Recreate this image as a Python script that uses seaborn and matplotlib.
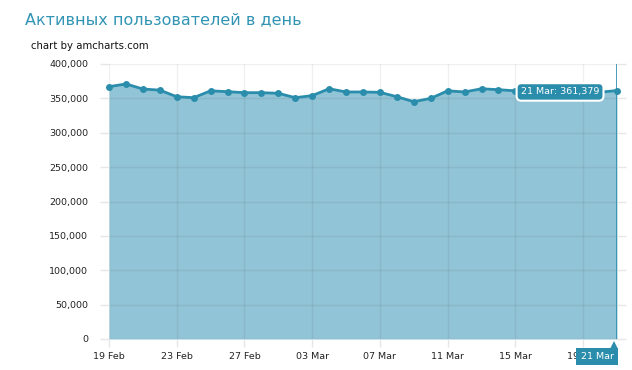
import matplotlib
matplotlib.use("Agg")
import matplotlib.pyplot as plt
import matplotlib.transforms as mtrans
from matplotlib.ticker import FuncFormatter
import seaborn as sns
import pandas as pd

# ---- data ----
title = "Активных пользователей в день"
credit = "chart by amcharts.com"
start_date = "2013-02-19"
users = [367000, 371000, 363600, 362000, 352400, 351000, 361000, 359700,
         358300, 358300, 357400, 351000, 354000, 364000, 359300, 359300,
         358800, 352400, 345200, 350000, 361000, 359300, 364000, 362600,
         361000, 359500, 362000, 358000, 356500, 359000, 361379]
xtick_labels = ["19 Feb", "23 Feb", "27 Feb", "03 Mar", "07 Mar",
                "11 Mar", "15 Mar", "19 Mar"]
ytick_values = [0, 50000, 100000, 150000, 200000, 250000, 300000, 350000, 400000]
cursor_label = "21 Mar"
year = "2013"

# ---- style ----
line_color = "#2a8dab"
fill_color = "#91c4d6"
title_color = "#3294b4"

sns.set_theme(style="white")
plt.rcParams['font.family'] = ['DejaVu Sans']

dates = pd.date_range(start_date, periods=len(users), freq="D")
df = pd.DataFrame({"date": dates, "users": users})
tick_dates = pd.to_datetime([f"{l} {year}" for l in xtick_labels], format="%d %b %Y")

fig = plt.figure(figsize=(6.32, 3.70), dpi=100)
ax = fig.add_axes([109/632, 31/370, 508/632, 275/370])

ax.fill_between(df["date"], df["users"], 0, color=fill_color, lw=0, zorder=1)
sns.lineplot(data=df, x="date", y="users", ax=ax, color=line_color, lw=2,
             marker="o", markersize=5, markeredgewidth=0, zorder=4, clip_on=False)

ax.set_xlim(dates[0], dates[-1])
ax.set_ylim(ytick_values[0], ytick_values[-1])
ax.set_xticks(tick_dates)
ax.set_xticklabels(xtick_labels)
ax.set_yticks(ytick_values)
ax.yaxis.set_major_formatter(FuncFormatter(lambda v, p: f"{v:,.0f}"))
ax.set_xlabel("")
ax.set_ylabel("")

for s in ax.spines.values():
    s.set_visible(False)

ax.set_axisbelow(False)
ax.grid(True, color="black", alpha=0.06, lw=1)
tick_rgba = (0.9, 0.9, 0.9)
ax.tick_params(axis="y", left=True, right=True, length=6.5, width=1,
               color=tick_rgba, direction="out", labelsize=6.8, pad=8.5,
               labelcolor="#222222")
ax.tick_params(axis="x", bottom=True, length=5.8, width=1, color=tick_rgba,
               direction="out", labelsize=6.8, pad=3.5, labelcolor="#222222")

# cursor line
ax.axvline(dates[-1], color=line_color, lw=1.2, zorder=5)

# tooltip balloon
ax.annotate(f"{cursor_label}: {users[-1]:,}", xy=(dates[-1], users[-1]),
            xytext=(-41, -1), textcoords="offset points", ha="center",
            va="center", color="white", fontsize=6.8, zorder=6,
            annotation_clip=False,
            bbox=dict(boxstyle="round,pad=0.45,rounding_size=0.5",
                      fc=line_color, ec="white", lw=1.5))

# bottom cursor label
ax.annotate(cursor_label, xy=(dates[-1], 0), xytext=(-14.4, -12.6),
            textcoords="offset points", ha="center", va="center",
            color="white", fontsize=6.8, zorder=6, annotation_clip=False,
            bbox=dict(boxstyle="square,pad=0.45", fc=line_color, ec="none"))
tri_tr = mtrans.offset_copy(ax.transData, fig=fig, x=-3, y=-6, units="dots")
ax.plot([dates[-1]], [0], marker="^", markersize=5.5, color=line_color,
        transform=tri_tr, clip_on=False, zorder=6, markeredgewidth=0)

fig.text(25/632, 1 - 20/370, title, fontsize=11.5, color=title_color,
         ha="left", va="center")
fig.text(31/632, 1 - 46/370, credit, fontsize=7.3, color="#111111",
         ha="left", va="center")

fig.savefig("out.png", dpi=100)
